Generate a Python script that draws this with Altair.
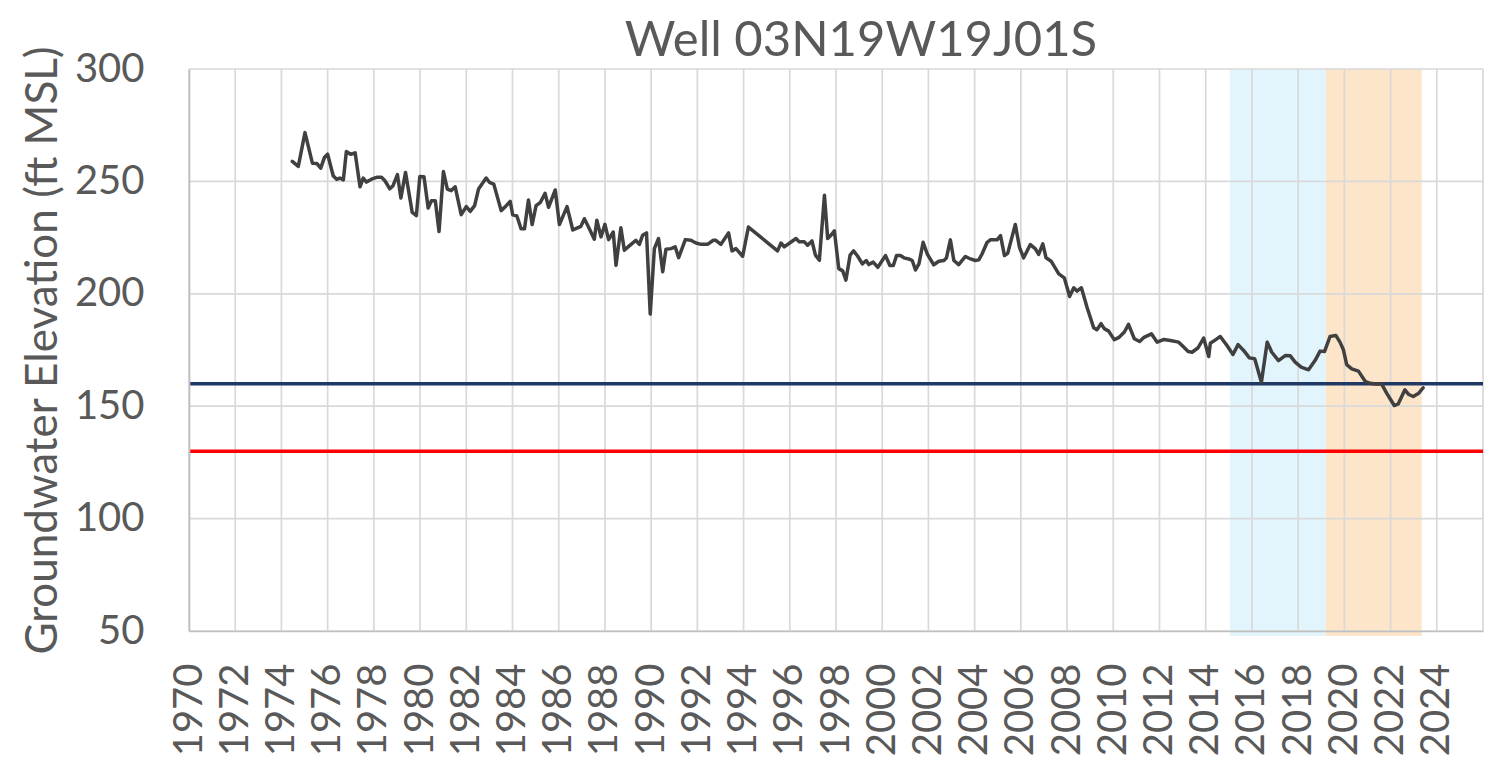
import altair as alt
import pandas as pd

# ---- data ----
years = [
    1974.47, 1974.73, 1975.02, 1975.34, 1975.53, 1975.70, 1975.86, 1976.00, 1976.24, 1976.39,
    1976.53, 1976.68, 1976.81, 1976.99, 1977.19, 1977.40, 1977.54, 1977.68, 1977.90, 1978.12,
    1978.33, 1978.48, 1978.69, 1978.83, 1979.02, 1979.17, 1979.37, 1979.66, 1979.84, 1979.99,
    1980.17, 1980.35, 1980.49, 1980.66, 1980.82, 1981.01, 1981.18, 1981.35, 1981.52, 1981.78,
    1982.00, 1982.17, 1982.36, 1982.53, 1982.86, 1983.00, 1983.19, 1983.51, 1983.73, 1983.90,
    1984.01, 1984.19, 1984.37, 1984.52, 1984.69, 1984.85, 1985.02, 1985.21, 1985.41, 1985.56,
    1985.85, 1986.03, 1986.36, 1986.61, 1986.74, 1986.96, 1987.11, 1987.29, 1987.54, 1987.65,
    1987.83, 1988.00, 1988.16, 1988.36, 1988.48, 1988.69, 1988.84, 1989.13, 1989.34, 1989.49,
    1989.63, 1989.80, 1989.96, 1990.14, 1990.32, 1990.50, 1990.64, 1990.86, 1991.04, 1991.19,
    1991.48, 1991.72, 1991.94, 1992.16, 1992.44, 1992.69, 1992.80, 1993.02, 1993.35, 1993.50,
    1993.67, 1993.96, 1994.21, 1995.47, 1995.62, 1995.76, 1996.27, 1996.41, 1996.63, 1996.77,
    1996.96, 1997.11, 1997.28, 1997.50, 1997.64, 1997.78, 1997.93, 1998.12, 1998.29, 1998.43,
    1998.61, 1998.76, 1998.94, 1999.14, 1999.31, 1999.42, 1999.61, 1999.81, 2000.14, 2000.33,
    2000.48, 2000.62, 2000.79, 2000.94, 2001.15, 2001.30, 2001.44, 2001.59, 2001.77, 2001.95,
    2002.23, 2002.45, 2002.67, 2002.78, 2002.95, 2003.10, 2003.31, 2003.60, 2003.82, 2004.03,
    2004.18, 2004.32, 2004.54, 2004.68, 2004.97, 2005.12, 2005.29, 2005.43, 2005.76, 2005.94,
    2006.12, 2006.41, 2006.63, 2006.77, 2006.95, 2007.09, 2007.31, 2007.64, 2007.88, 2008.11,
    2008.29, 2008.43, 2008.62, 2008.86, 2009.15, 2009.29, 2009.47, 2009.61, 2009.80, 2010.04,
    2010.23, 2010.48, 2010.66, 2010.91, 2011.14, 2011.31, 2011.65, 2011.90, 2012.19, 2012.47,
    2012.83, 2012.98, 2013.24, 2013.41, 2013.67, 2013.91, 2014.13, 2014.20, 2014.42, 2014.63,
    2014.92, 2015.18, 2015.40, 2015.64, 2015.89, 2016.12, 2016.41, 2016.66, 2016.86, 2017.15,
    2017.44, 2017.66, 2017.87, 2018.13, 2018.45, 2018.73, 2018.95, 2019.14, 2019.38, 2019.63,
    2019.81, 2019.96, 2020.10, 2020.32, 2020.61, 2020.90, 2021.11, 2021.35, 2021.61, 2021.83,
    2022.16, 2022.33, 2022.62, 2022.79, 2022.98, 2023.22, 2023.41,
]
levels = [
    258.9, 256.7, 271.7, 258.1, 258.0, 255.9, 260.6, 262.1, 252.5, 250.9,
    251.5, 250.7, 263.3, 262.1, 262.7, 247.6, 251.5, 249.7, 251.0, 251.8,
    251.8, 250.3, 246.7, 248.1, 253.0, 242.6, 254.0, 236.2, 234.8, 252.2,
    252.1, 238.2, 241.4, 241.4, 227.7, 254.4, 246.6, 245.9, 247.6, 235.2,
    238.8, 236.7, 239.2, 246.6, 251.5, 249.6, 248.8, 237.0, 239.2, 241.1,
    235.1, 234.6, 228.9, 228.9, 241.7, 230.8, 239.2, 240.7, 244.7, 238.5,
    246.2, 230.8, 238.8, 228.4, 229.0, 230.0, 233.4, 229.7, 224.3, 232.7,
    225.3, 230.9, 224.1, 227.5, 212.7, 229.4, 219.4, 222.0, 223.8, 222.0,
    226.0, 227.1, 191.0, 220.1, 224.6, 209.8, 219.8, 220.1, 220.9, 216.1,
    224.1, 223.8, 222.6, 222.0, 222.0, 223.8, 223.8, 222.0, 227.1, 219.1,
    220.1, 216.7, 229.7, 219.1, 222.6, 220.9, 224.6, 223.1, 223.1, 221.6,
    223.5, 217.2, 214.9, 243.8, 224.6, 226.0, 228.0, 211.2, 210.2, 206.1,
    217.2, 219.1, 216.7, 213.3, 214.8, 213.0, 214.1, 211.8, 217.0, 212.6,
    212.6, 217.0, 217.0, 216.0, 215.5, 214.8, 210.6, 213.3, 222.9, 217.7,
    212.9, 214.5, 214.8, 216.0, 224.0, 214.8, 213.0, 216.6, 215.5, 214.8,
    215.1, 217.7, 222.9, 224.0, 224.0, 225.9, 217.0, 218.0, 230.8, 220.7,
    216.0, 221.9, 220.0, 217.5, 222.2, 216.0, 214.5, 208.9, 207.1, 198.8,
    202.7, 201.2, 202.7, 194.1, 184.9, 184.0, 186.7, 184.5, 183.4, 179.6,
    180.5, 183.0, 186.4, 180.0, 178.8, 180.5, 182.2, 178.5, 179.7, 179.2,
    178.5, 177.0, 174.3, 174.0, 176.0, 180.3, 172.1, 178.0, 179.5, 181.0,
    177.0, 173.0, 177.4, 174.8, 171.5, 171.1, 160.7, 178.5, 174.0, 170.3,
    172.5, 172.4, 169.6, 167.4, 166.2, 170.3, 174.5, 174.3, 181.0, 181.5,
    178.5, 175.1, 168.5, 166.6, 165.6, 161.1, 160.2, 159.9, 159.9, 155.8,
    150.3, 151.0, 157.3, 155.2, 154.3, 155.8, 158.2,
]
x_tick_values = list(range(1970, 2025, 2))
x_grid_values = list(range(1970, 2027, 2))
y_tick_values = [50, 100, 150, 200, 250, 300]
threshold_values = [160, 130]
threshold_colors = ["#1F3864", "#FF0000"]
period_start = [2015.05, 2019.2]
period_end = [2019.2, 2023.35]
period_colors = ["#E2F5FD", "#FDE5C9"]
chart_title = "Well 03N19W19J01S"
y_title = "Groundwater Elevation (ft MSL)"

FONT = "Lato"
TEXT = "#595959"
GRID = "#D9D9D9"

xscale = alt.Scale(domain=[1970, 2026], nice=False, zero=False)
yscale = alt.Scale(domain=[50, 300], nice=False, zero=False)

x_axis = alt.Axis(
    values=x_tick_values, format="d", grid=False, ticks=False, tickSize=0,
    labelAngle=270, labelAlign="right", labelBaseline="middle", labelPadding=32,
    labelFont=FONT, labelFontSize=40, labelColor=TEXT, labelOverlap=False,
    domainColor="#BFBFBF", domainWidth=1.7, title=None, zindex=1,
)
y_axis = alt.Axis(
    values=y_tick_values, grid=False, ticks=False, tickSize=0,
    labelPadding=45, labelFont=FONT, labelFontSize=40, labelColor=TEXT,
    domainColor="#BFBFBF", domainWidth=1.7,
    title=y_title, titleFont=FONT, titleFontSize=44, titleFontWeight="normal",
    titleColor=TEXT, titlePadding=9, zindex=1,
)

shade_df = pd.DataFrame({"start": period_start, "end": period_end, "c": period_colors})
shade = alt.Chart(shade_df).mark_rect().encode(
    x=alt.X("start:Q", scale=xscale, axis=x_axis),
    x2="end:Q",
    y=alt.Y(datum=300, scale=yscale, axis=y_axis),
    y2=alt.datum(47.8),
    color=alt.Color("c:N", scale=None),
)

vgrid = alt.Chart(pd.DataFrame({"g": x_grid_values})).mark_rule(
    color=GRID, strokeWidth=1.7
).encode(x=alt.X("g:Q", scale=xscale, axis=x_axis))

hgrid = alt.Chart(pd.DataFrame({"g": y_tick_values})).mark_rule(
    color=GRID, strokeWidth=1.7
).encode(y=alt.Y("g:Q", scale=yscale, axis=y_axis))

thr = alt.Chart(pd.DataFrame({"v": threshold_values, "c": threshold_colors})).mark_rule(
    strokeWidth=3.5
).encode(
    y=alt.Y("v:Q", scale=yscale, axis=y_axis),
    color=alt.Color("c:N", scale=None),
)

line = alt.Chart(pd.DataFrame({"year": years, "level": levels})).mark_line(
    color="#404040", strokeWidth=3.5, strokeJoin="round", strokeCap="round"
).encode(
    x=alt.X("year:Q", scale=xscale, axis=x_axis),
    y=alt.Y("level:Q", scale=yscale, axis=y_axis),
)

chart = alt.layer(shade, vgrid, hgrid, thr, line).properties(
    width=1294,
    height=562,
    autosize=alt.AutoSizeParams(type="none"),
    padding={"left": 181, "top": 61, "right": 1, "bottom": 125},
    title=alt.TitleParams(
        chart_title, font=FONT, fontSize=49, fontWeight="normal", color=TEXT,
        anchor="middle", dx=25, dy=27, offset=6,
    ),
).configure_view(stroke=None)

chart.save("out.html", embed_options={"renderer": "svg", "actions": False})
